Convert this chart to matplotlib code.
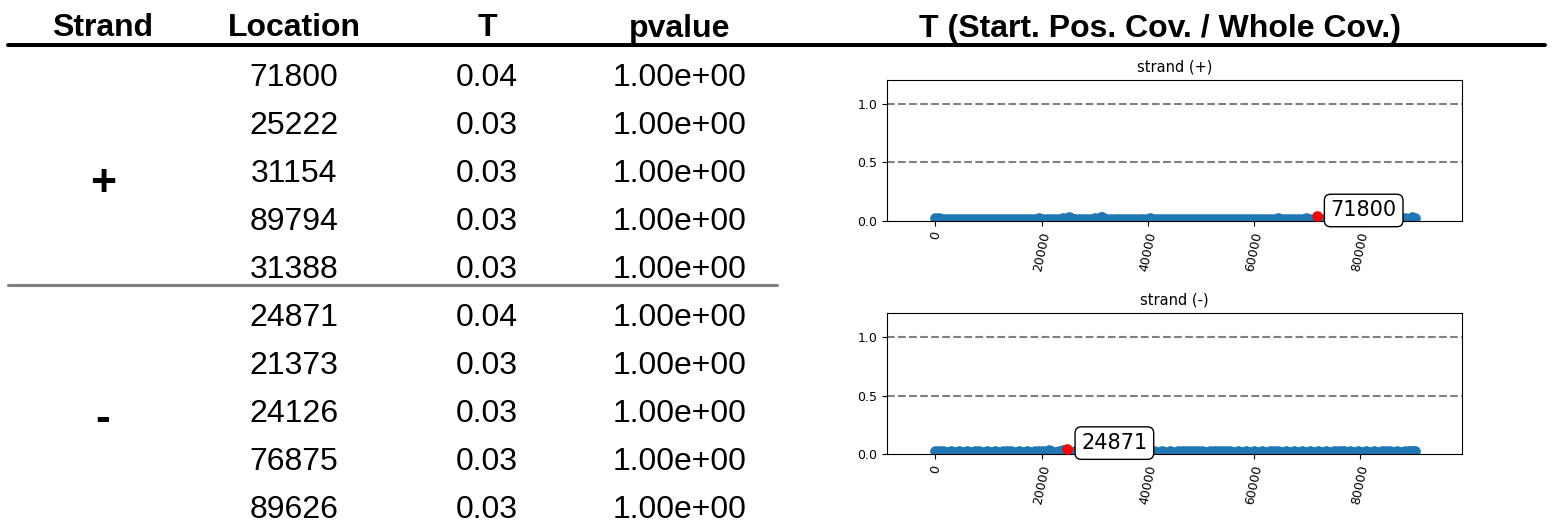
import matplotlib
matplotlib.use("Agg")
import matplotlib.pyplot as plt

# ---------------------------------------------------------------- data
headers = ["Strand", "Location", "T", "pvalue"]
plot_header = "T (Start. Pos. Cov. / Whole Cov.)"
strand_signs = ["+", "-"]

# top-5 start positions per strand
loc_plus = [71800, 25222, 31154, 89794, 31388]
t_plus = [0.036, 0.030, 0.030, 0.029, 0.029]
p_plus = [1.0, 1.0, 1.0, 1.0, 1.0]

loc_minus = [24871, 21373, 24126, 76875, 89626]
t_minus = [0.042, 0.030, 0.030, 0.029, 0.029]
p_minus = [1.0, 1.0, 1.0, 1.0, 1.0]

# T along the genome (background positions)
bin_pos = [
    0, 750, 1500, 2250, 3000, 3750, 4500, 5250, 6000, 6750,
    7500, 8250, 9000, 9750, 10500, 11250, 12000, 12750, 13500, 14250,
    15000, 15750, 16500, 17250, 18000, 18750, 19500, 20250, 21000, 21750,
    22500, 23250, 24000, 24750, 25500, 26250, 27000, 27750, 28500, 29250,
    30000, 30750, 31500, 32250, 33000, 33750, 34500, 35250, 36000, 36750,
    37500, 38250, 39000, 39750, 40500, 41250, 42000, 42750, 43500, 44250,
    45000, 45750, 46500, 47250, 48000, 48750, 49500, 50250, 51000, 51750,
    52500, 53250, 54000, 54750, 55500, 56250, 57000, 57750, 58500, 59250,
    60000, 60750, 61500, 62250, 63000, 63750, 64500, 65250, 66000, 66750,
    67500, 68250, 69000, 69750, 70500, 71250, 72000, 72750, 73500, 74250,
    75000, 75750, 76500, 77250, 78000, 78750, 79500, 80250, 81000, 81750,
    82500, 83250, 84000, 84750, 85500, 86250, 87000, 87750, 88500, 89250,
    90000, 90300]
t_plus_bg = [
    0.020, 0.019, 0.018, 0.017, 0.018, 0.017, 0.016, 0.018, 0.017, 0.016,
    0.018, 0.017, 0.018, 0.017, 0.016, 0.017, 0.018, 0.017, 0.016, 0.017,
    0.017, 0.018, 0.017, 0.016, 0.018, 0.017, 0.019, 0.018, 0.017, 0.018,
    0.018, 0.017, 0.019, 0.018, 0.020, 0.018, 0.017, 0.018, 0.017, 0.018,
    0.019, 0.018, 0.020, 0.018, 0.017, 0.018, 0.017, 0.016, 0.018, 0.017,
    0.017, 0.018, 0.017, 0.018, 0.019, 0.018, 0.017, 0.016, 0.018, 0.017,
    0.016, 0.017, 0.018, 0.017, 0.018, 0.017, 0.016, 0.017, 0.018, 0.017,
    0.018, 0.017, 0.018, 0.016, 0.017, 0.018, 0.017, 0.016, 0.017, 0.018,
    0.017, 0.018, 0.017, 0.016, 0.018, 0.017, 0.019, 0.018, 0.017, 0.018,
    0.018, 0.017, 0.018, 0.019, 0.018, 0.017, 0.018, 0.017, 0.018, 0.017,
    0.018, 0.017, 0.018, 0.017, 0.016, 0.017, 0.018, 0.017, 0.018, 0.017,
    0.018, 0.017, 0.018, 0.017, 0.018, 0.019, 0.018, 0.017, 0.019, 0.018,
    0.020, 0.019]
t_minus_bg = [
    0.024, 0.023, 0.022, 0.021, 0.022, 0.021, 0.022, 0.021, 0.022, 0.021,
    0.022, 0.023, 0.021, 0.022, 0.021, 0.022, 0.021, 0.022, 0.023, 0.022,
    0.021, 0.022, 0.021, 0.022, 0.021, 0.022, 0.023, 0.022, 0.024, 0.022,
    0.021, 0.022, 0.023, 0.022, 0.021, 0.022, 0.021, 0.022, 0.021, 0.022,
    0.021, 0.022, 0.021, 0.022, 0.021, 0.022, 0.023, 0.022, 0.021, 0.022,
    0.021, 0.022, 0.021, 0.022, 0.021, 0.022, 0.021, 0.022, 0.021, 0.022,
    0.021, 0.022, 0.023, 0.022, 0.024, 0.026, 0.023, 0.022, 0.021, 0.022,
    0.023, 0.024, 0.026, 0.023, 0.022, 0.021, 0.022, 0.021, 0.022, 0.021,
    0.022, 0.021, 0.022, 0.021, 0.022, 0.023, 0.022, 0.021, 0.022, 0.021,
    0.022, 0.021, 0.022, 0.021, 0.022, 0.021, 0.022, 0.021, 0.022, 0.021,
    0.022, 0.023, 0.022, 0.021, 0.022, 0.021, 0.022, 0.021, 0.022, 0.021,
    0.022, 0.021, 0.022, 0.023, 0.022, 0.021, 0.022, 0.021, 0.022, 0.023,
    0.024, 0.023]

xticks = [0, 20000, 40000, 60000, 80000]
yticks = [0.0, 0.5, 1.0]

# ---------------------------------------------------------------- layout
W, H, DPI = 1554, 523, 100
TABLE_FONT = ["Liberation Sans", "DejaVu Sans"]
BLUE = "#1f77b4"

fig = plt.figure(figsize=(W / DPI, H / DPI), dpi=DPI)

# full-figure canvas in pixel units for the table part
tab = fig.add_axes([0, 0, 1, 1])
tab.set_xlim(0, W)
tab.set_ylim(H, 0)
tab.axis("off")

col_x = [103, 294, 487, 680]
header_base = 36.5
for x, h in zip(col_x, headers):
    tab.text(x, header_base, h, ha="center", va="baseline", fontsize=23,
             fontweight="bold", family=TABLE_FONT)
tab.text(1160, header_base, plot_header, ha="center", va="baseline",
         fontsize=23, fontweight="bold", family=TABLE_FONT)
tab.plot([8, 1545], [44.5, 44.5], color="black", lw=2.9,
         solid_capstyle="round")
tab.plot([8, 777], [285, 285], color="#808080", lw=2.2,
         solid_capstyle="round")

row0, step = 86.5, 48
blocks = [(loc_plus, t_plus, p_plus), (loc_minus, t_minus, p_minus)]
sign_base = [196.5, 431]
for b, (locs, ts, ps) in enumerate(blocks):
    tab.text(col_x[0], sign_base[b], strand_signs[b], ha="center",
             va="baseline", fontsize=32, fontweight="bold", family=TABLE_FONT)
    for i, (loc, t, p) in enumerate(zip(locs, ts, ps)):
        y = row0 + (b * 5 + i) * step
        for x, s in zip(col_x[1:], [f"{loc}", f"{t:.2f}", f"{p:.2e}"]):
            tab.text(x, y, s, ha="center", va="baseline", fontsize=23,
                     family=TABLE_FONT)

# ---------------------------------------------------------------- scatter panels
panel_rects = [
    [887.3 / W, 1 - 220.7 / H, 575 / W, 140.7 / H],
    [887.3 / W, 1 - 454.0 / H, 575 / W, 140.7 / H],
]
backgrounds = [t_plus_bg, t_minus_bg]
for b, (locs, ts, ps) in enumerate(blocks):
    ax = fig.add_axes(panel_rects[b])
    ax.scatter(bin_pos + locs[1:], backgrounds[b] + ts[1:], s=44,
               color=BLUE, zorder=2)
    ax.scatter([locs[0]], [ts[0]], s=44, color="red", zorder=3)
    ax.axhline(0.5, color="gray", ls="--", lw=1.5, zorder=1)
    ax.axhline(1.0, color="gray", ls="--", lw=1.5, zorder=1)
    ax.annotate(f"{locs[0]}", (locs[0], ts[0]), xytext=(10, 0),
                textcoords="offset points", fontsize=15, zorder=4,
                bbox=dict(boxstyle="round", fc="white", ec="black"))
    ax.set_xlim(-9035, 99200)
    ax.set_ylim(0, 1.205)
    ax.set_xticks(xticks)
    ax.set_yticks(yticks)
    ax.tick_params(labelsize=9)
    for lab in ax.get_xticklabels():
        lab.set_rotation(78)
    ax.set_title(f"strand ({strand_signs[b]})", fontsize=10.5)

fig.savefig("out.png", dpi=DPI)
